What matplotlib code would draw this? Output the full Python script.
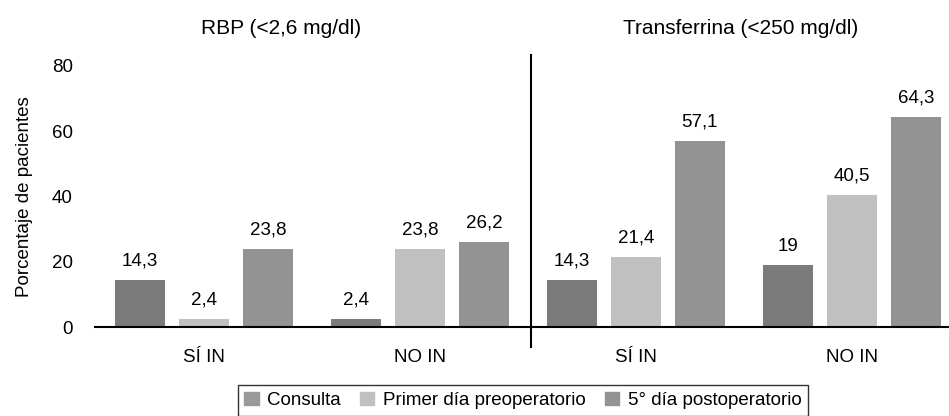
import numpy as np
import matplotlib
matplotlib.use('Agg')
import matplotlib.pyplot as plt
from matplotlib.patches import Patch

plt.rcParams['font.family'] = ['Liberation Sans', 'DejaVu Sans']

# data
grupos = ['SÍ IN', 'NO IN', 'SÍ IN', 'NO IN']
series = ['Consulta', 'Primer día preoperatorio', '5° día postoperatorio']
consulta = [14.3, 2.4, 14.3, 19]
primer_dia = [2.4, 23.8, 21.4, 40.5]
quinto_dia = [23.8, 26.2, 57.1, 64.3]
etiquetas = [['14,3', '2,4', '14,3', '19'],
             ['2,4', '23,8', '21,4', '40,5'],
             ['23,8', '26,2', '57,1', '64,3']]
paneles = ['RBP (<2,6 mg/dl)', 'Transferrina (<250 mg/dl)']
yticks = [0, 20, 40, 60, 80]

colores = ['#7b7b7b', '#c0c0c0', '#939393']
colores_leyenda = ['#9a9a9a', '#c0c0c0', '#939393']
fs = 13.5

fig = plt.figure(figsize=(9.49, 4.16), dpi=100)
ax = fig.add_axes([95/949, 1-327/416, 1-95/949, (327-66)/416])

x = np.arange(len(grupos))
paso = 64/216
ancho = 50/216
for i, vals in enumerate([consulta, primer_dia, quinto_dia]):
    pos = x + (i-1)*paso
    ax.bar(pos, vals, ancho, color=colores[i], zorder=2)
    for p, v, t in zip(pos, vals, etiquetas[i]):
        ax.annotate(t, (p, v), xytext=(0, 7.5), textcoords='offset points',
                    ha='center', va='bottom', fontsize=fs)

ax.set_xlim(-0.505, 3.45)
ax.set_ylim(0, 80)
ax.set_yticks(yticks)
ax.set_xticks(x)
ax.set_xticklabels(grupos)
ax.tick_params(axis='y', length=0, pad=16, labelsize=fs)
ax.tick_params(axis='x', length=0, pad=15.5, labelsize=fs)
for s in ['top', 'right', 'left']:
    ax.spines[s].set_visible(False)
ax.spines['bottom'].set_linewidth(1.5)
ax.spines['bottom'].set_zorder(3)

# separador entre paneles
ax.plot([1.514, 1.514], [-6.1, 83.4], color='black', lw=1.5, clip_on=False)

ax.set_ylabel('Porcentaje de pacientes', fontsize=fs)
ax.yaxis.set_label_coords(-0.073, 0.5)

fig.text(281/949, 1-28/416, paneles[0], ha='center', va='center', fontsize=15)
fig.text(741/949, 1-28/416, paneles[1], ha='center', va='center', fontsize=15)

handles = [Patch(color=c) for c in colores_leyenda]
leg = fig.legend(handles, series, loc='upper center', bbox_to_anchor=(523/949, 1-385/416),
                 ncol=3, frameon=True, fancybox=False, edgecolor='black',
                 fontsize=fs, handlelength=0.75, handleheight=0.75,
                 handletextpad=0.45, columnspacing=1.05, borderpad=0.35,
                 borderaxespad=0)
leg.get_frame().set_linewidth(1.0)

fig.savefig('out.png', dpi=100)
